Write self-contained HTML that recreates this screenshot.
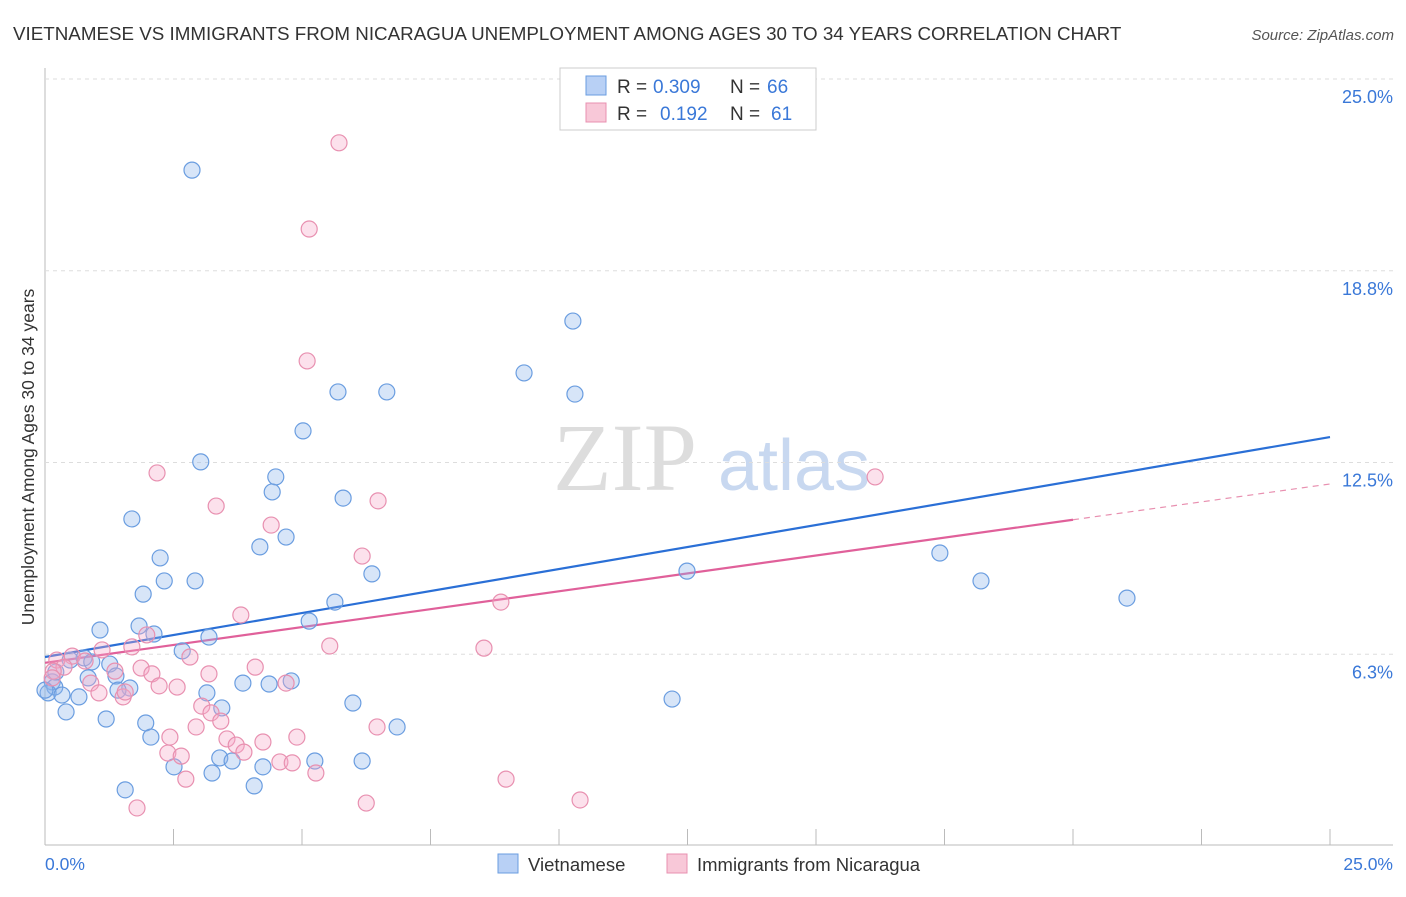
<!DOCTYPE html>
<html><head><meta charset="utf-8"><style>
body{margin:0;background:#fff;font-family:"Liberation Sans",sans-serif;}
</style></head><body>
<svg id="chart" width="1406" height="892" xmlns="http://www.w3.org/2000/svg" style="font-family:'Liberation Sans',sans-serif">
<text x="13" y="40" font-size="18.8" fill="#333">VIETNAMESE VS IMMIGRANTS FROM NICARAGUA UNEMPLOYMENT AMONG AGES 30 TO 34 YEARS CORRELATION CHART</text>
<text x="1394" y="40" font-size="15" fill="#555" text-anchor="end" font-style="italic">Source: ZipAtlas.com</text>
<text x="553" y="490" font-size="96" fill="#ddd" style="font-family:'Liberation Serif',serif">ZIP</text>
<text x="718" y="490" font-size="72" fill="#c8d8f0">atlas</text>
<text transform="translate(34,457) rotate(-90)" font-size="17.5" fill="#333" text-anchor="middle">Unemployment Among Ages 30 to 34 years</text>
<g id="grid"></g><g id="ticks"></g><g id="lines"></g><g id="points"></g>
<g>
<rect x="560" y="68" width="256" height="62" fill="#fff" stroke="#ccc"/>
<rect x="586" y="76" width="20" height="19" fill="#b8d0f5" stroke="#6a9de0"/>
<text x="617" y="93" font-size="19" fill="#333">R =</text>
<text x="653" y="93" font-size="19" fill="#3a78d8">0.309</text>
<text x="730" y="93" font-size="19" fill="#333">N =</text>
<text x="767" y="93" font-size="19" fill="#3a78d8">66</text>
<rect x="586" y="103" width="20" height="19" fill="#f8c8d8" stroke="#e890b0"/>
<text x="617" y="120" font-size="19" fill="#333">R =</text>
<text x="660" y="120" font-size="19" fill="#3a78d8">0.192</text>
<text x="730" y="120" font-size="19" fill="#333">N =</text>
<text x="771" y="120" font-size="19" fill="#3a78d8">61</text>
</g>
<g>
<rect x="498" y="854" width="20" height="19" fill="#b8d0f5" stroke="#6a9de0"/>
<text x="528" y="871" font-size="18.5" fill="#333">Vietnamese</text>
<rect x="667" y="854" width="20" height="19" fill="#f8c8d8" stroke="#e890b0"/>
<text x="697" y="871" font-size="18.5" fill="#333">Immigrants from Nicaragua</text>
</g>
</svg>
<script>
const blueX=[2.86,10.27,9.32,5.70,6.65,10.31,5.02,3.03,4.49,4.42,5.80,1.69,4.69,4.18,2.24,17.41,12.49,6.36,2.32,2.92,18.21,1.91,21.05,5.64,5.14,1.83,1.07,2.12,3.19,2.67,0.76,1.26,0.49,0.91,1.38,0.84,1.65,0.14,0.19,0.06,0.33,0.66,3.15,3.85,4.36,4.79,5.99,12.20,0.41,3.44,1.19,1.96,2.06,6.85,3.40,3.64,2.51,3.25,4.24,5.25,6.17,4.07,1.56,1.42,0.21,0.0];
const blueY=[22.03,17.11,15.42,14.80,14.80,14.73,13.53,12.52,12.03,11.54,11.34,10.66,10.07,9.75,9.39,9.55,8.96,8.87,8.64,8.64,8.64,8.21,8.08,7.95,7.33,7.17,7.04,6.91,6.81,6.36,6.13,5.93,6.06,6.00,5.54,5.48,5.15,5.35,5.18,4.99,4.92,4.86,4.99,5.31,5.28,5.38,4.66,4.79,4.37,4.50,4.14,4.01,3.55,3.88,2.87,2.77,2.58,2.38,2.58,2.77,2.77,1.96,1.83,5.08,5.67,5.08];
const pinkX=[5.72,5.14,5.10,16.15,2.18,6.48,3.33,4.40,6.17,8.87,3.81,1.98,1.69,5.54,8.54,1.11,2.82,0.53,0.23,0.78,4.09,1.87,1.36,0.37,0.16,2.08,3.19,0.89,0.14,2.22,2.57,4.69,1.05,1.52,1.56,3.05,3.23,3.42,2.94,6.46,2.43,3.54,4.90,4.24,3.72,3.87,2.39,2.65,4.57,4.81,5.27,2.74,8.97,6.25,10.41,1.79];
const pinkY=[22.92,20.11,15.81,12.03,12.16,11.25,11.08,10.46,9.45,7.95,7.53,6.88,6.49,6.52,6.45,6.39,6.16,6.19,6.06,6.03,5.83,5.80,5.70,5.83,5.70,5.61,5.61,5.31,5.48,5.22,5.18,5.31,4.99,4.86,5.02,4.56,4.34,4.07,3.88,3.88,3.55,3.49,3.55,3.39,3.29,3.06,3.03,2.93,2.74,2.71,2.38,2.18,2.18,1.40,1.50,1.24];
const blueTrend=[6.16,13.33];
const pinkTrend=[5.97,11.80];
const yTicks=[25.0,18.75,12.5,6.25];
const yTickLabels=["25.0%","18.8%","12.5%","6.3%"];
const xTickCount=10;
const sx=v=>45+v/25*1285, sy=v=>846-v/25*767;
const NS="http://www.w3.org/2000/svg";
function mk(tag,attrs,parent,txt){const e=document.createElementNS(NS,tag);for(const k in attrs)e.setAttribute(k,attrs[k]);if(txt!=null)e.textContent=txt;document.getElementById(parent).appendChild(e);return e;}
let ax=mk('line',{x1:45,y1:68,x2:45,y2:845,stroke:'#bbb'},'grid');


ax=mk('line',{x1:45,y1:845,x2:1393,y2:845,stroke:'#bbb'},'grid');


yTicks.forEach((t,i)=>{
 const g=mk('line',{x1:45,x2:1393,y1:sy(t),y2:sy(t),stroke:'#ddd','stroke-dasharray':'4,4'},'grid');
 
 
 const l=mk('text',{x:1393,y:sy(t)+24,'font-size':18,fill:'#3a78d8','text-anchor':'end'},'ticks',yTickLabels[i]);
 
 
});
for(let i=0;i<=xTickCount;i++){const x=sx(i*2.5);const t=mk('line',{x1:x,x2:x,y1:829,y2:845,stroke:'#bbb'},'ticks');

}
let a=mk('text',{x:45,y:870,'font-size':17.5,fill:'#3a78d8'},'ticks','0.0%');


a=mk('text',{x:1393,y:870,'font-size':17.5,fill:'#3a78d8','text-anchor':'end'},'ticks','25.0%');


function dots(X,Y,fill,stroke,name){X.forEach((x,i)=>{const c=mk('circle',{cx:sx(x),cy:sy(Y[i]),r:8,fill:fill,stroke:stroke,'stroke-width':1.2},'points');

});}
dots(blueX,blueY,'rgba(140,180,235,0.35)','#6a9de0','vietnamese-point');
dots(pinkX,pinkY,'rgba(245,170,200,0.35)','#e890b0','nicaragua-point');
const pk=x=>pinkTrend[0]+(pinkTrend[1]-pinkTrend[0])*x/25;
let L=mk('line',{x1:sx(0),y1:sy(blueTrend[0]),x2:sx(25),y2:sy(blueTrend[1]),stroke:'#2a6fd6','stroke-width':2.2},'lines');


L=mk('line',{x1:sx(0),y1:sy(pk(0)),x2:sx(20),y2:sy(pk(20)),stroke:'#e0609a','stroke-width':2.2},'lines');


L=mk('line',{x1:sx(20),y1:sy(pk(20)),x2:sx(25),y2:sy(pk(25)),stroke:'#e890b0','stroke-width':1.2,'stroke-dasharray':'6,5'},'lines');


</script>
</body></html>
